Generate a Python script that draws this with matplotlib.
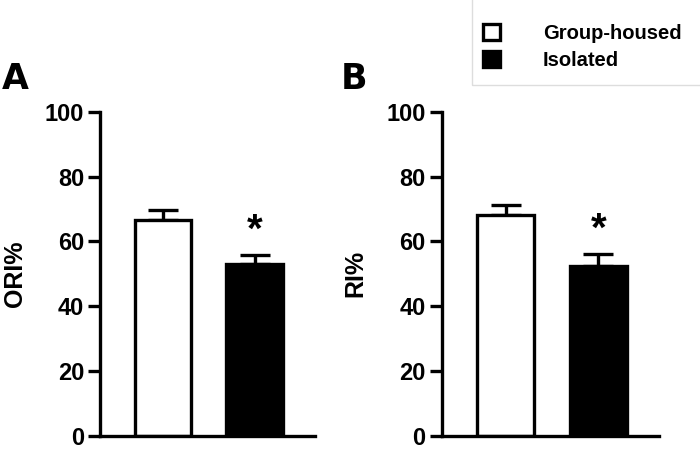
import matplotlib.pyplot as plt
from matplotlib.patches import Patch, Rectangle

plt.rcParams['font.family'] = ['Liberation Sans', 'DejaVu Sans']
plt.rcParams['font.weight'] = 'bold'

# data
groups = ["Group-housed", "Isolated"]
colors = ["white", "black"]
ori_mean = [66.6, 53.0]
ori_sem = [3.0, 2.8]
ri_mean = [68.0, 52.5]
ri_sem = [3.3, 3.6]
yticks = [0, 20, 40, 60, 80, 100]

fig = plt.figure(figsize=(7, 4.57), dpi=100)
ax_a = fig.add_axes([0.1429, 0.046, 0.307, 0.7097])
ax_b = fig.add_axes([0.631, 0.046, 0.311, 0.7097])

lw = 2.4
for ax, mean, sem, ylab, letter, lx in [
        (ax_a, ori_mean, ori_sem, "ORI%", "A", 0.002),
        (ax_b, ri_mean, ri_sem, "RI%", "B", 0.487)]:
    x = range(len(groups))
    for i in x:
        # error bar (upper half only), drawn behind the bar
        ax.errorbar(i, mean[i], yerr=[[0], [sem[i]]], color="black",
                    elinewidth=lw, capsize=11, capthick=lw, zorder=1)
        ax.bar(i, mean[i], width=0.62, color=colors[i], edgecolor="black",
               linewidth=lw, zorder=2)
    # significance star over the isolated bar
    ax.text(1, mean[1] + sem[1] + 1.5, "*", ha="center", va="bottom",
            fontsize=29, fontweight="bold")
    ax.set_ylim(0, 100)
    ax.set_xlim(-0.69, 1.66)
    ax.set_yticks(yticks)
    ax.set_xticks([])
    ax.tick_params(axis="y", width=lw, length=8.5, labelsize=17, pad=3)
    for s in ["top", "right"]:
        ax.spines[s].set_visible(False)
    for s in ["left", "bottom"]:
        ax.spines[s].set_linewidth(lw)
    ax.set_ylabel(ylab, fontsize=18, fontweight="bold")
    ax.yaxis.set_label_coords(-0.34, 0.5)
    fig.text(lx, 0.79, letter, fontsize=25, fontweight="heavy",
             family="DejaVu Sans", ha="left", va="bottom")

# legend with light frame (cut off at the figure edge)
fig.patches.append(Rectangle((0.674, 0.814), 0.4, 0.3, transform=fig.transFigure,
                             fill=False, edgecolor="#dddddd", linewidth=1))
handles = [Patch(facecolor=c, edgecolor="black", linewidth=lw) for c in colors]
fig.legend(handles, groups, loc="upper left", bbox_to_anchor=(0.679, 0.965),
           frameon=False, fontsize=14.5, handlelength=0.85, handleheight=0.85,
           handletextpad=2.1, labelspacing=0.4, borderaxespad=0)

fig.savefig("out.png", dpi=100)
